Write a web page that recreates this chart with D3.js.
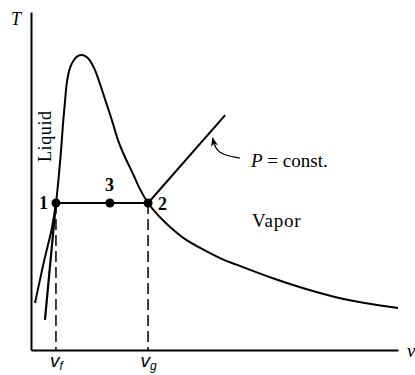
<!DOCTYPE html>
<html>
<head>
<meta charset="utf-8">
<script src="https://cdn.jsdelivr.net/npm/d3@7"></script>
<style>
  html, body { margin: 0; padding: 0; background: #fff; }
  svg { display: block; font-family: "Liberation Serif", "Times New Roman", serif; }
</style>
</head>
<body>
<div id="chart"></div>
<script>
// ---- Data (v, T in arbitrary units) ----
const domeV = [0.11, 0.35, 0.57, 0.68, 0.76, 0.82, 0.87, 0.93, 0.98, 1.06, 1.17, 1.28, 1.39,
               1.55, 1.72, 1.88, 2.04, 2.21, 2.37, 2.56, 2.78, 2.97, 3.19, 3.46, 3.79, 4.20, 4.61, 5.15, 5.83, 6.65, 7.47, 8.28, 9.10, 10.0];
const domeT = [1.39, 2.60, 3.61, 4.35, 5.18, 5.92, 6.66, 7.40, 7.93, 8.34, 8.58, 8.70, 8.73,
               8.64, 8.34, 7.87, 7.34, 6.78, 6.21, 5.71, 5.21, 4.76, 4.35, 3.99, 3.64, 3.28, 3.02, 2.72, 2.43, 2.10, 1.81, 1.57, 1.39, 1.24];
const liquidIsobarV = [0.38, 0.68];
const liquidIsobarT = [0.89, 4.35];
const mixIsobarV = [0.68, 3.19];
const mixIsobarT = [4.35, 4.35];
const vaporIsobarV = [3.19, 5.29];
const vaporIsobarT = [4.35, 6.95];
const stateLabels = ["1", "3", "2"];
const stateV = [0.68, 2.15, 3.19];
const stateT = [4.35, 4.35, 4.35];
const tickValuesV = [0.68, 3.19];
const tickSubs = ["f", "g"];
const arrowV = [5.69, 5.05, 4.95];
const arrowT = [5.68, 5.80, 6.27];

// ---- Layout ----
const W = 415, H = 375;
const x = d3.scaleLinear().domain([0, 10]).range([31, 398]);
const y = d3.scaleLinear().domain([0, 10]).range([350, 12]);

const svg = d3.select("#chart").append("svg").attr("width", W).attr("height", H);

svg.append("defs").append("marker")
  .attr("id", "ah").attr("viewBox", "0 0 10 10").attr("refX", 9).attr("refY", 5)
  .attr("markerWidth", 7).attr("markerHeight", 7).attr("orient", "auto")
  .append("path").attr("d", "M0,1 L10,5 L0,9 L3,5 Z").attr("fill", "#000");

// Axes
const xAxis = d3.axisBottom(x).tickValues(tickValuesV).tickSize(0).tickSizeOuter(0).tickFormat("");
const gx = svg.append("g").attr("transform", `translate(0,${y(0)})`).call(xAxis);
gx.select(".domain").attr("stroke", "#000").attr("stroke-width", 2);
gx.selectAll(".tick").each(function(d, i) {
  const t = d3.select(this).append("text").attr("fill", "#000").attr("y", 17)
    .attr("text-anchor", "middle").style("font-size", "19px").style("font-style", "italic");
  t.append("tspan").text("v");
  t.append("tspan").attr("dy", 3).style("font-size", "12px").text(tickSubs[i]);
});

const yAxis = d3.axisLeft(y).tickValues([]).tickSizeOuter(0);
const gy = svg.append("g").attr("transform", `translate(${x(0)},0)`).call(yAxis);
gy.select(".domain").attr("stroke", "#000").attr("stroke-width", 2);

svg.append("text").attr("x", 11).attr("y", 25).style("font-style", "italic").style("font-size", "18px").text("T");
svg.append("text").attr("x", 407).attr("y", 357).style("font-style", "italic").style("font-size", "19px").text("v");

// Dashed verticals
tickValuesV.forEach(v => {
  svg.append("line").attr("x1", x(v)).attr("x2", x(v)).attr("y1", y(4.35)).attr("y2", y(0))
    .attr("stroke", "#000").attr("stroke-width", 1.5).attr("stroke-dasharray", "11,5");
});

// Curves
const line = d3.line().x(d => x(d[0])).y(d => y(d[1]));
const smooth = d3.line().x(d => x(d[0])).y(d => y(d[1])).curve(d3.curveCatmullRom.alpha(0.5));
const zip = (a, b) => a.map((v, i) => [v, b[i]]);

svg.append("path").attr("d", smooth(zip(domeV, domeT))).attr("fill", "none").attr("stroke", "#000").attr("stroke-width", 2);
svg.append("path").attr("d", line(zip(liquidIsobarV, liquidIsobarT))).attr("fill", "none").attr("stroke", "#000").attr("stroke-width", 2.2);
svg.append("path").attr("d", line(zip(mixIsobarV, mixIsobarT))).attr("fill", "none").attr("stroke", "#000").attr("stroke-width", 2);
svg.append("path").attr("d", line(zip(vaporIsobarV, vaporIsobarT))).attr("fill", "none").attr("stroke", "#000").attr("stroke-width", 2);

// Arrow
svg.append("path").attr("d", d3.line().x(d => x(d[0])).y(d => y(d[1])).curve(d3.curveBasis)(zip(arrowV, arrowT)))
  .attr("fill", "none").attr("stroke", "#000").attr("stroke-width", 1.3).attr("marker-end", "url(#ah)");

// State points
svg.selectAll("circle.st").data(stateV).enter().append("circle")
  .attr("cx", (d) => x(d)).attr("cy", (d, i) => y(stateT[i])).attr("r", 4.5).attr("fill", "#000");
const lblDx = [-17, -5, 10];
const lblDy = [6, -12, 7];
svg.selectAll("text.st").data(stateLabels).enter().append("text")
  .attr("x", (d, i) => x(stateV[i]) + lblDx[i]).attr("y", (d, i) => y(stateT[i]) + lblDy[i])
  .style("font-weight", "bold").style("font-size", "18px").text(d => d);

// Region labels
svg.append("text").attr("transform", `translate(51,162) rotate(-90)`).style("font-size", "18px").style("letter-spacing", "0.6px").text("Liquid");
svg.append("text").attr("x", 252).attr("y", 227).style("font-size", "19px").style("letter-spacing", "0.8px").text("Vapor");
const pc = svg.append("text").attr("x", 251).attr("y", 167).style("font-size", "19px");
pc.append("tspan").style("font-style", "italic").text("P");
pc.append("tspan").text(" = const.");
</script>
</body>
</html>
